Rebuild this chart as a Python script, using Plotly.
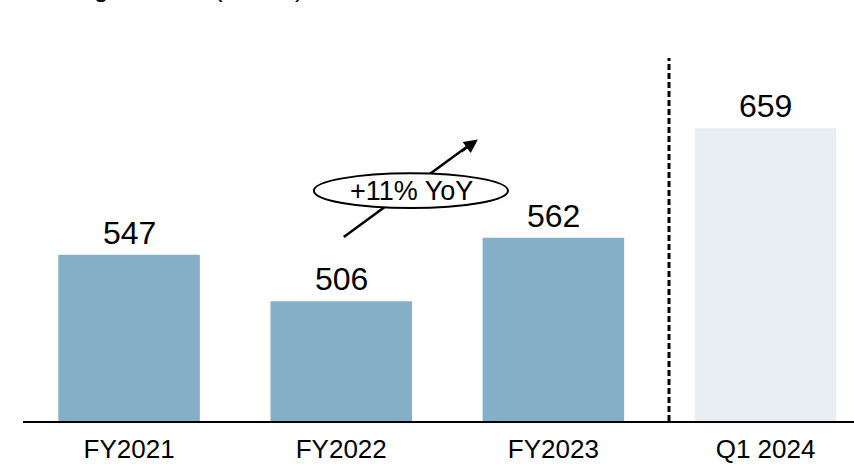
import plotly.graph_objects as go

categories = ["FY2021", "FY2022", "FY2023", "Q1 2024"]
values = [547, 506, 562, 659]
bar_colors = ["#84AFC6", "#84AFC6", "#84AFC6", "#E8EEF2"]
growth_label = "+11% YoY"
title_text = "Lending balance (US$m)"

xpos = list(range(len(categories)))

fig = go.Figure()
fig.add_trace(go.Bar(
    x=xpos, y=values, width=0.667,
    marker=dict(color=bar_colors, line=dict(width=0)),
    hoverinfo="skip",
))

for xi, v in zip(xpos, values):
    fig.add_annotation(x=xi, y=v, xref="x", yref="y", text=str(v),
                       showarrow=False, yanchor="bottom", yshift=2,
                       font=dict(family="Liberation Sans, Arial", size=32, color="#000000"))

# dashed separator
fig.add_shape(type="line", xref="x", yref="y", x0=2.545, x1=2.545, y0=400, y1=721,
              line=dict(color="#000000", width=3, dash="6px,3px"))

# growth arrow line (under ellipse)
fig.add_shape(type="line", xref="x", yref="y", x0=1.012, y0=562.8, x1=1.62, y1=646.4,
              line=dict(color="#000000", width=2.5), layer="above")
# ellipse
fig.add_shape(type="circle", xref="x", yref="y", x0=0.871, x1=1.786, y0=588.3, y1=619.1,
              line=dict(color="#000000", width=2), fillcolor="#FFFFFF", layer="above")
# arrow head
fig.add_annotation(x=1.644, y=649, xref="x", yref="y", text="", showarrow=True,
                   ax=-18, ay=13, arrowhead=2, arrowsize=1.1, arrowwidth=2.5,
                   arrowcolor="#000000")
fig.add_annotation(x=1.33, y=603.7, xref="x", yref="y", text=growth_label, showarrow=False,
                   font=dict(family="Liberation Sans, Arial", size=27, color="#000000"))

# title, clipped at the top edge as in the source
fig.add_annotation(x=0, y=1.0757, xref="paper", yref="paper", text=title_text,
                   showarrow=False, xanchor="left", yanchor="bottom", xshift=-9, yshift=6,
                   font=dict(family="Liberation Sans, Arial", size=26, color="#000000"))

fig.update_layout(
    width=854, height=464,
    margin=dict(l=23, r=0, t=40, b=41),
    paper_bgcolor="#FFFFFF", plot_bgcolor="#FFFFFF",
    showlegend=False,
    xaxis=dict(range=[-0.5, 3.417], tickmode="array", tickvals=xpos, ticktext=categories,
               showline=True, linecolor="#000000", linewidth=2, showgrid=False,
               zeroline=False, ticks="", ticklabelstandoff=4,
               tickfont=dict(family="Liberation Sans, Arial", size=26, color="#000000")),
    yaxis=dict(range=[400, 737], visible=False, showgrid=False, zeroline=False),
)

fig.write_html("out.html")
